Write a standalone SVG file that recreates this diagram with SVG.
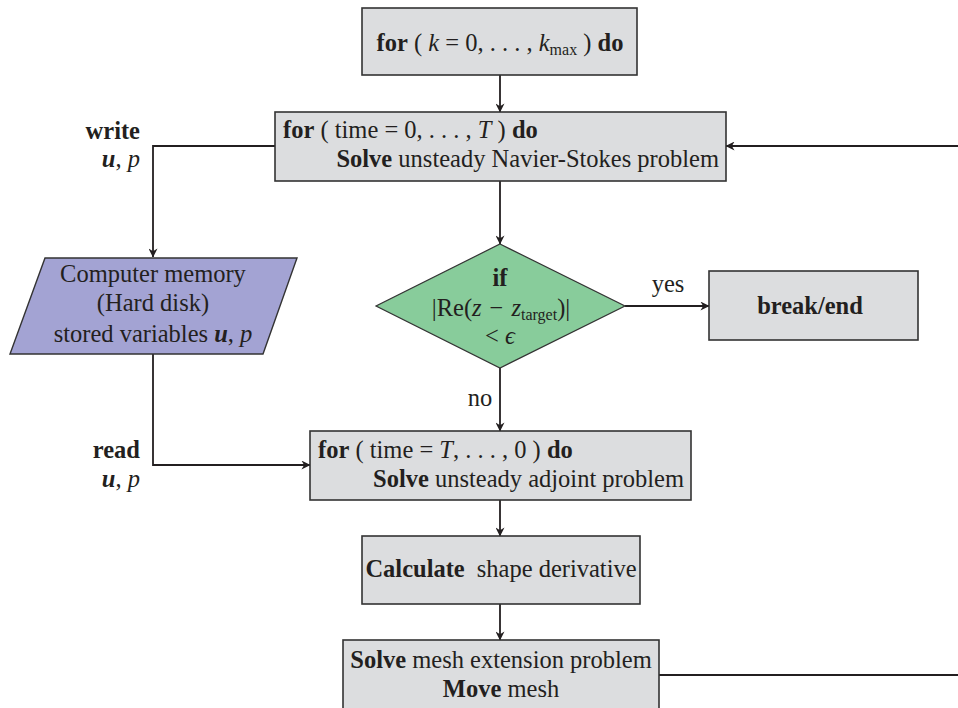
<svg xmlns="http://www.w3.org/2000/svg" width="958" height="708" viewBox="0 0 958 708" font-family="Liberation Serif, DejaVu Serif, serif">
<style>
text{font-family:"Liberation Serif","DejaVu Serif",serif;font-size:24.5px;fill:#231f20}
.b{font-weight:bold}
.i{font-style:italic}
.box{fill:#dcdddf;stroke:#333;stroke-width:1.6}
.ln{fill:none;stroke:#231f20;stroke-width:1.8}
.s{font-size:16px}
</style>
<defs>
<marker id="ah" viewBox="0 0 10 10" refX="9.5" refY="5" markerWidth="9" markerHeight="9" markerUnits="userSpaceOnUse" orient="auto">
<path d="M0,0 L10,5 L0,10 L3,5 z" fill="#231f20"/>
</marker>
</defs>
<g id="connectors">
<line class="ln" x1="500" y1="75" x2="500" y2="112" marker-end="url(#ah)"/>
<polyline class="ln" points="275,146 153,146 153,257" marker-end="url(#ah)"/>
<line class="ln" x1="500" y1="181" x2="500" y2="244" marker-end="url(#ah)"/>
<line class="ln" x1="625" y1="306" x2="709" y2="306" marker-end="url(#ah)"/>
<line class="ln" x1="500" y1="368" x2="500" y2="431" marker-end="url(#ah)"/>
<polyline class="ln" points="153,354 153,465 310,465" marker-end="url(#ah)"/>
<line class="ln" x1="500" y1="500" x2="500" y2="536" marker-end="url(#ah)"/>
<line class="ln" x1="500" y1="604" x2="500" y2="640" marker-end="url(#ah)"/>
<line class="ln" x1="659" y1="675" x2="958" y2="675"/>
<line class="ln" x1="958" y1="146" x2="726" y2="146" marker-end="url(#ah)"/>
<text x="140" y="139" text-anchor="end" class="b">write</text>
<text x="140" y="167" text-anchor="end"><tspan class="b i">u</tspan>, <tspan class="i">p</tspan></text>
<text x="140" y="458" text-anchor="end" class="b">read</text>
<text x="140" y="487" text-anchor="end"><tspan class="b i">u</tspan>, <tspan class="i">p</tspan></text>
<text x="668" y="292" text-anchor="middle">yes</text>
<text x="480" y="406" text-anchor="middle">no</text>
</g>
<g id="n_kloop">
<rect class="box" x="362" y="8" width="275" height="67"/>
<text x="500" y="51" text-anchor="middle"><tspan class="b">for</tspan> ( <tspan class="i">k</tspan> = 0, . . . , <tspan class="i">k</tspan><tspan class="s" dy="4">max</tspan><tspan dy="-4"> ) </tspan><tspan class="b">do</tspan></text>
</g>
<g id="n_forward">
<rect class="box" x="275" y="112" width="451" height="69"/>
<text x="283" y="138"><tspan class="b">for</tspan> ( time = 0, . . . , <tspan class="i">T</tspan> ) <tspan class="b">do</tspan></text>
<text x="719" y="167" text-anchor="end"><tspan class="b">Solve</tspan> unsteady Navier-Stokes problem</text>
</g>
<g id="n_memory">
<polygon points="45,258 297,258 263,354 10,354" fill="#a3a3d3" stroke="#333" stroke-width="1.4"/>
<text x="153" y="282" text-anchor="middle">Computer memory</text>
<text x="153" y="311" text-anchor="middle">(Hard disk)</text>
<text x="153" y="342" text-anchor="middle">stored variables <tspan class="b i">u</tspan>, <tspan class="i">p</tspan></text>
</g>
<g id="n_if">
<polygon points="500,244 625,306 500,368 376,306" fill="#88cc9b" stroke="#333" stroke-width="1.2"/>
<text x="500" y="286" text-anchor="middle" class="b">if</text>
<text x="501" y="316" text-anchor="middle">|Re(<tspan class="i">z</tspan><tspan dx="8">−</tspan><tspan class="i" dx="8">z</tspan><tspan class="s" dy="4">target</tspan><tspan dy="-4">)|</tspan></text>
<text x="500" y="344" text-anchor="middle">&lt; <tspan class="i">ϵ</tspan></text>
</g>
<g id="n_break">
<rect class="box" x="709" y="271" width="209" height="69"/>
<text x="810" y="314" text-anchor="middle" class="b">break/end</text>
</g>
<g id="n_adjoint">
<rect class="box" x="310" y="431" width="381" height="69"/>
<text x="318" y="458"><tspan class="b">for</tspan> ( time = <tspan class="i">T</tspan>, . . . , 0 ) <tspan class="b">do</tspan></text>
<text x="684" y="487" text-anchor="end"><tspan class="b">Solve</tspan> unsteady adjoint problem</text>
</g>
<g id="n_derivative">
<rect class="box" x="362" y="536" width="278" height="68"/>
<text x="501" y="577" text-anchor="middle"><tspan class="b">Calculate</tspan><tspan dx="12">shape derivative</tspan></text>
</g>
<g id="n_mesh">
<rect class="box" x="343" y="640" width="316" height="80"/>
<text x="501" y="668" text-anchor="middle"><tspan class="b">Solve</tspan> mesh extension problem</text>
<text x="501" y="697" text-anchor="middle"><tspan class="b">Move</tspan> mesh</text>
</g>
</svg>
